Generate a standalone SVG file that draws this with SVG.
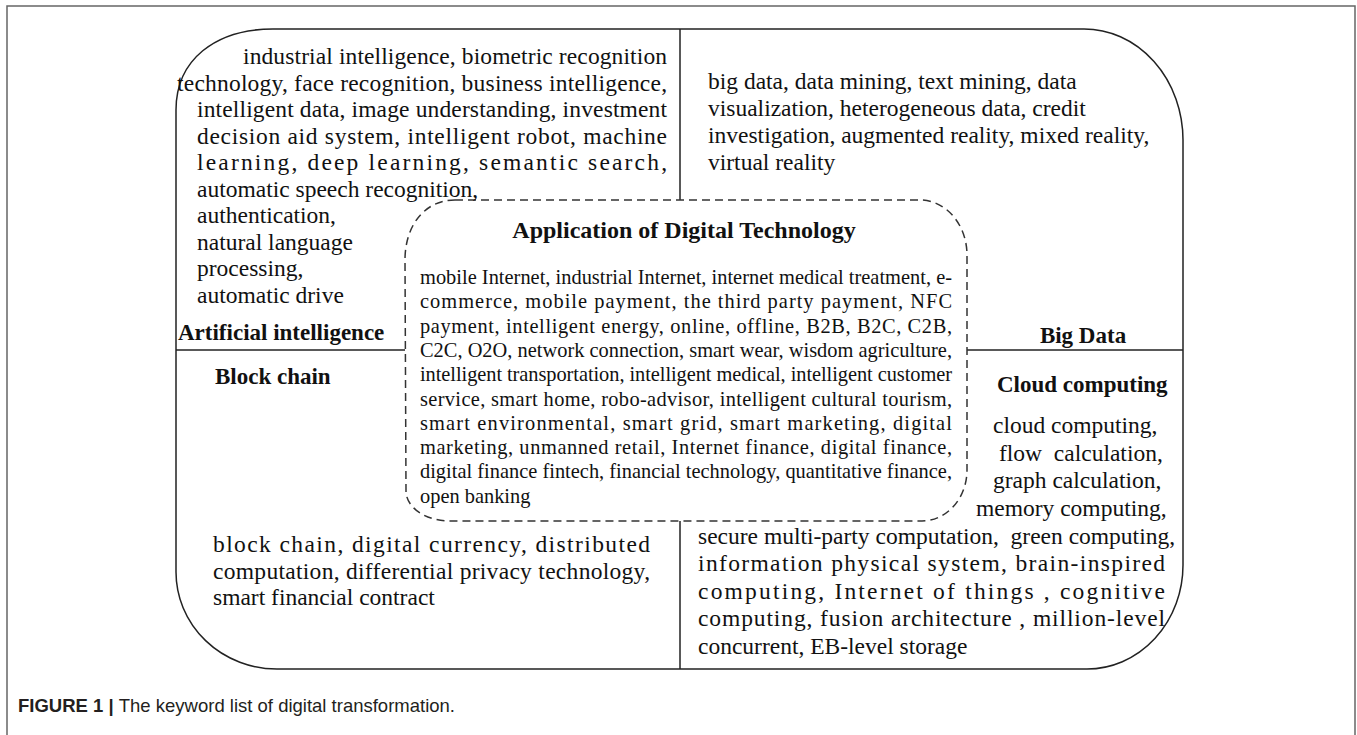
<svg xmlns="http://www.w3.org/2000/svg" width="1357" height="735" viewBox="0 0 1357 735">
<style>
.t{font-family:"Liberation Serif","Times New Roman",serif;font-size:23.5px;fill:#111}
.c{font-family:"Liberation Serif","Times New Roman",serif;font-size:20.4px;fill:#111}
.b{font-family:"Liberation Serif","Times New Roman",serif;font-size:23px;font-weight:bold;fill:#111}
.ttl{font-family:"Liberation Serif","Times New Roman",serif;font-size:24px;font-weight:bold;fill:#111}
.ln{fill:none;stroke:#222;stroke-width:1.5}
.dash{fill:none;stroke:#333;stroke-width:1.5;stroke-dasharray:8 5}
.cap{font-family:"Liberation Sans",Arial,sans-serif;font-size:19px;fill:#231f20}
</style>
<rect width="1357" height="735" fill="#fff"/>
<path id="frame" d="M7,745 V6 H1355 V745" fill="none" stroke="#666" stroke-width="1.5"/>

<g id="outer">
<path class="ln" d="M273,29 L1084,29 A99 111 0 0 1 1183,140 L1183,565 A96 104 0 0 1 1087,669 L277,669 A101 97 0 0 1 176,572 L176,110 C176,60 215,29 273,29 Z"/>
</g>

<g id="connectors">
<line class="ln" x1="680" y1="29" x2="680" y2="200"/>
<line class="ln" x1="680" y1="521" x2="680" y2="669"/>
<line class="ln" x1="176" y1="350" x2="405" y2="350"/>
<line class="ln" x1="967" y1="350" x2="1183" y2="350"/>
</g>

<g id="center">
<path class="dash" d="M455,200 L920,200 A47 55 0 0 1 967,255 L967,470 A45 51 0 0 1 922,521 L450,521 A44 30 0 0 1 406,491 L405,260 C405,225 425,200 455,200 Z"/>
<text class="ttl" x="684" y="238" text-anchor="middle">Application of Digital Technology</text>
<text class="c" x="420" y="284" textLength="532" lengthAdjust="spacing">mobile Internet, industrial Internet, internet medical treatment, e-</text>
<text class="c" x="420" y="308.3" textLength="532" lengthAdjust="spacing">commerce, mobile payment, the third party payment, NFC</text>
<text class="c" x="420" y="332.6" textLength="532" lengthAdjust="spacing">payment, intelligent energy, online, offline, B2B, B2C, C2B,</text>
<text class="c" x="420" y="357" textLength="532" lengthAdjust="spacing">C2C, O2O, network connection, smart wear, wisdom agriculture,</text>
<text class="c" x="420" y="381.2" textLength="532" lengthAdjust="spacing">intelligent transportation, intelligent medical, intelligent customer</text>
<text class="c" x="420" y="405.5" textLength="532" lengthAdjust="spacing">service, smart home, robo-advisor, intelligent cultural tourism,</text>
<text class="c" x="420" y="429.8" textLength="532" lengthAdjust="spacing">smart environmental, smart grid, smart marketing, digital</text>
<text class="c" x="420" y="454" textLength="532" lengthAdjust="spacing">marketing, unmanned retail, Internet finance, digital finance,</text>
<text class="c" x="420" y="478.4" textLength="532" lengthAdjust="spacing">digital finance fintech, financial technology, quantitative finance,</text>
<text class="c" x="420" y="502.7">open banking</text>
</g>

<g id="ai">
<text class="t" x="243" y="64" textLength="424" lengthAdjust="spacing">industrial intelligence, biometric recognition</text>
<text class="t" x="177" y="90.5" textLength="490" lengthAdjust="spacing">technology, face recognition, business intelligence,</text>
<text class="t" x="197" y="117" textLength="470" lengthAdjust="spacing">intelligent data, image understanding, investment</text>
<text class="t" x="197" y="143.5" textLength="470" lengthAdjust="spacing">decision aid system, intelligent robot, machine</text>
<text class="t" x="197" y="170" textLength="470" lengthAdjust="spacing">learning, deep learning, semantic search,</text>
<text class="t" x="197" y="196.5">automatic speech recognition,</text>
<text class="t" x="197" y="223">authentication,</text>
<text class="t" x="197" y="249.5">natural language</text>
<text class="t" x="197" y="276">processing,</text>
<text class="t" x="197" y="302.5">automatic drive</text>
<text class="b" x="178" y="340">Artificial intelligence</text>
</g>

<g id="bigdata">
<text class="t" x="708" y="89">big data, data mining, text mining, data</text>
<text class="t" x="708" y="116">visualization, heterogeneous data, credit</text>
<text class="t" x="708" y="143">investigation, augmented reality, mixed reality,</text>
<text class="t" x="708" y="170">virtual reality</text>
<text class="b" x="1083" y="343" text-anchor="middle">Big Data</text>
</g>

<g id="blockchain">
<text class="b" x="215" y="384">Block chain</text>
<text class="t" x="213" y="552" textLength="437" lengthAdjust="spacing">block chain, digital currency, distributed</text>
<text class="t" x="213" y="579" textLength="437" lengthAdjust="spacing">computation, differential privacy technology,</text>
<text class="t" x="213" y="605">smart financial contract</text>
</g>

<g id="cloud">
<text class="b" x="997" y="392">Cloud computing</text>
<text class="t" x="993" y="433">cloud computing,</text>
<text class="t" x="999" y="460.7" xml:space="preserve">flow  calculation,</text>
<text class="t" x="993" y="488.3">graph calculation,</text>
<text class="t" x="976" y="516">memory computing,</text>
<text class="t" x="698" y="543.5" xml:space="preserve">secure multi-party computation,  green computing,</text>
<text class="t" x="698" y="571" textLength="467" lengthAdjust="spacing">information physical system, brain-inspired</text>
<text class="t" x="698" y="598.5" textLength="467" lengthAdjust="spacing">computing, Internet of things , cognitive</text>
<text class="t" x="698" y="626" textLength="467" lengthAdjust="spacing">computing, fusion architecture , million-level</text>
<text class="t" x="698" y="653.5">concurrent, EB-level storage</text>
</g>

<g id="caption">
<text class="cap" x="18" y="712" textLength="437" lengthAdjust="spacingAndGlyphs"><tspan font-weight="bold">FIGURE 1 | </tspan>The keyword list of digital transformation.</text>
</g>
</svg>
